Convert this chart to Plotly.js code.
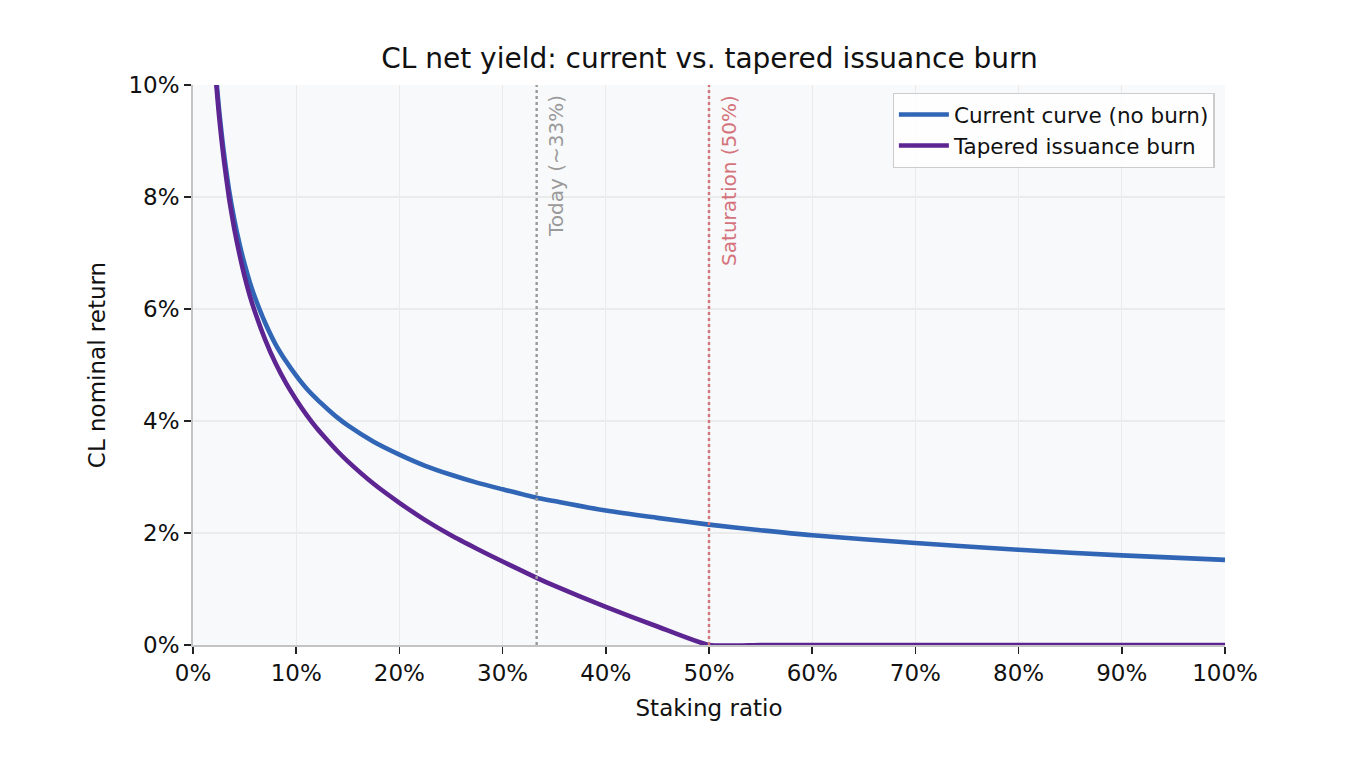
<!DOCTYPE html>
<html>
<head>
<meta charset="utf-8">
<script src="https://cdn.plot.ly/plotly-3.0.1.min.js"></script>
<style>
  html, body { margin: 0; padding: 0; background: #ffffff; }
  #chart { width: 1370px; height: 772px; }
</style>
</head>
<body>
<div id="chart"></div>
<script>
'use strict';

// staking ratio (%)
const stakingRatio = [2, 2.25, 2.5, 2.75, 3, 3.5, 4, 4.5, 5, 5.5, 6, 7, 8, 9, 10, 11, 12, 13, 14, 15, 17.5,
	20, 22.5, 25, 27.5, 30, 33.3, 35, 40, 45, 50, 55, 60, 70, 80, 90, 100];

// CL nominal return (%)
const currentCurve = [10.75, 10.13, 9.61, 9.17, 8.78, 8.12, 7.60, 7.17, 6.80, 6.48, 6.21, 5.75, 5.37, 5.07, 4.81, 4.58, 4.39, 4.22, 4.06, 3.92, 3.63,
	3.40, 3.20, 3.04, 2.90, 2.78, 2.63, 2.57, 2.40, 2.27, 2.15, 2.05, 1.96, 1.82, 1.70, 1.60, 1.52];
const taperedBurn = [10.66, 10.03, 9.50, 9.05, 8.65, 7.97, 7.43, 6.98, 6.58, 6.24, 5.95, 5.45, 5.03, 4.68, 4.38, 4.11, 3.87, 3.66, 3.46, 3.28, 2.88,
	2.54, 2.23, 1.96, 1.72, 1.49, 1.20, 1.06, 0.68, 0.33, 0, 0, 0, 0, 0, 0, 0];

const markerX = [33.3, 50];
const markerLabels = ['Today (~33%)', 'Saturation (50%)'];
const markerColors = ['#9a9a9a', '#d4737c'];

const xTicks = [0, 10, 20, 30, 40, 50, 60, 70, 80, 90, 100];
const xTickText = ['0%', '10%', '20%', '30%', '40%', '50%', '60%', '70%', '80%', '90%', '100%'];
const yTicks = [0, 2, 4, 6, 8, 10];
const yTickText = ['0%', '2%', '4%', '6%', '8%', '10%'];

const font = 'DejaVu Sans, sans-serif';

const traces = [
	{
		x: stakingRatio,
		y: currentCurve,
		name: 'Current curve (no burn)',
		type: 'scatter',
		mode: 'lines',
		line: { color: '#3165b5', width: 4.6, shape: 'spline', smoothing: 0.8 },
		hoverinfo: 'skip'
	},
	{
		x: stakingRatio,
		y: taperedBurn,
		name: 'Tapered issuance burn',
		type: 'scatter',
		mode: 'lines',
		line: { color: '#5c2592', width: 4.6, shape: 'spline', smoothing: 0.5 },
		hoverinfo: 'skip'
	}
];

const shapes = markerX.map(function(x, i) {
	return {
		type: 'line', xref: 'x', yref: 'paper',
		x0: x, x1: x, y0: 0, y1: 1,
		line: { color: markerColors[i], width: 2.4, dash: 'dot' },
		layer: 'above'
	};
});

const annotations = markerX.map(function(x, i) {
	return {
		x: x, xref: 'x', y: 0.985, yref: 'paper',
		text: markerLabels[i],
		textangle: -90,
		showarrow: false,
		xanchor: 'left', yanchor: 'top',
		xshift: 6,
		font: { family: font, size: 20, color: markerColors[i] }
	};
});

const layout = {
	width: 1370,
	height: 772,
	margin: { l: 193, r: 145, t: 85, b: 127 },
	paper_bgcolor: '#ffffff',
	plot_bgcolor: '#f8f9fa',
	title: {
		text: 'CL net yield: current vs. tapered issuance burn',
		font: { family: font, size: 28, color: '#111111' },
		x: 0.5179, xanchor: 'center',
		y: 0.925, yanchor: 'middle'
	},
	xaxis: {
		range: [0, 100],
		tickvals: xTicks,
		ticktext: xTickText,
		ticks: 'outside', ticklen: 7, tickwidth: 1.5, tickcolor: '#222222',
		showgrid: true, gridcolor: '#ebebeb', gridwidth: 1.2,
		showline: true, linecolor: '#c4c4c4', linewidth: 1.8,
		zeroline: false,
		tickfont: { family: font, size: 23, color: '#111111' },
		title: { text: 'Staking ratio', font: { family: font, size: 23, color: '#111111' }, standoff: 14 }
	},
	yaxis: {
		range: [0, 10],
		tickvals: yTicks,
		ticktext: yTickText,
		ticks: 'outside', ticklen: 7, tickwidth: 1.5, tickcolor: '#222222',
		showgrid: true, gridcolor: '#ebebeb', gridwidth: 1.2,
		showline: true, linecolor: '#c4c4c4', linewidth: 1.8,
		zeroline: false,
		tickfont: { family: font, size: 23, color: '#111111' },
		title: { text: 'CL nominal return', font: { family: font, size: 23, color: '#111111' }, standoff: 16 }
	},
	legend: {
		x: 0.99, xanchor: 'right',
		y: 0.986, yanchor: 'top',
		bgcolor: 'rgba(255,255,255,0.85)',
		bordercolor: '#cccccc', borderwidth: 1.2,
		font: { family: font, size: 21.5, color: '#111111' },
		itemwidth: 50,
		tracegroupgap: 0
	},
	shapes: shapes,
	annotations: annotations,
	showlegend: true
};

Plotly.newPlot('chart', traces, layout, { displayModeBar: false, staticPlot: true });
</script>
</body>
</html>
